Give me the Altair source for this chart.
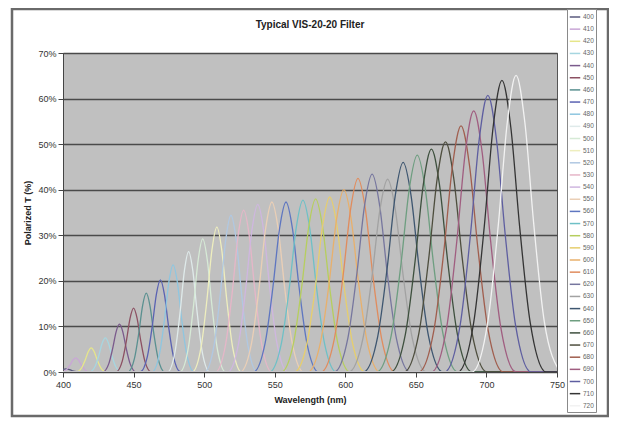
import altair as alt
import pandas as pd

# ---- data ----
filters = ["400", "410", "420", "430", "440", "450", "460", "470", "480", "490",
           "500", "510", "520", "530", "540", "550", "560", "570", "580", "590",
           "600", "610", "620", "630", "640", "650", "660", "670", "680", "690",
           "700", "710", "720"]
peak_nm = [402, 409, 420, 430, 440, 450, 459, 469, 478, 489,
           499, 509, 519, 528, 538, 548, 558, 570, 579, 589,
           599, 609, 619, 630, 641, 651, 661, 671, 682, 691,
           701, 711, 721]
peak_pct = [0.7, 3.1, 5.3, 7.5, 10.5, 14.0, 17.3, 20.2, 23.5, 26.4,
            29.2, 31.8, 34.4, 35.5, 36.8, 37.3, 37.3, 37.7, 38.0, 38.4,
            40.0, 42.5, 43.4, 42.3, 46.0, 47.6, 48.9, 50.5, 54.0, 57.3,
            60.7, 64.0, 65.1]
fwhm_nm = [8, 8, 8.5, 9, 9.5, 10, 10.5, 11.5, 12, 12,
           13, 14, 15, 16, 17, 18, 18.5, 19, 19.5, 20,
           20.5, 21, 21.5, 22, 22.5, 23, 23, 23.5, 24, 24,
           24.5, 25, 25]
colors = ["#5a5a7e", "#c9a6d6", "#e6e68a", "#a6d6e0", "#7a5a8c", "#8c5062",
          "#5a9090", "#5a62b2", "#8ec6e0", "#dfeaea", "#d6ead6", "#eeeebe",
          "#b0c8e2", "#e6b6c8", "#cfb6e0", "#eacfb6", "#5e76c0", "#6ec0c6",
          "#b6ce5e", "#e6ce6e", "#e8b06c", "#e08c5e", "#76769e", "#a2a2a2",
          "#3e5670", "#6e9e80", "#3e503e", "#4e4e3e", "#a05e4e", "#a05e80",
          "#5e5ea0", "#343434", "#f2f2f2"]
# typical peak profile (offset in FWHM units, fraction of peak)
profile_offset = [-1.25, -0.8, -0.5, -0.25, 0.0, 0.25, 0.5, 0.8, 1.25]
profile_rel = [0.0, 0.17, 0.5, 0.84, 1.0, 0.84, 0.5, 0.17, 0.0]
x_ticks = [400, 450, 500, 550, 600, 650, 700, 750]
y_ticks = [0, 10, 20, 30, 40, 50, 60, 70]
chart_title = "Typical VIS-20-20 Filter"

rows = []
for f, c, h, w in zip(filters, peak_nm, peak_pct, fwhm_nm):
    if c + profile_offset[0] * w > 400:
        rows.append({"filter": f, "nm": 400, "T": 0.0})
    for o, r in zip(profile_offset, profile_rel):
        rows.append({"filter": f, "nm": c + o * w, "T": h * r})
    if c + profile_offset[-1] * w < 750:
        rows.append({"filter": f, "nm": 750, "T": 0.0})
df = pd.DataFrame(rows)

FONT = "Liberation Sans"

lines = alt.Chart(df).mark_line(interpolate="monotone", strokeWidth=1.3, clip=True).encode(
    x=alt.X("nm:Q",
            scale=alt.Scale(domain=[400, 750], nice=False, zero=False),
            axis=alt.Axis(values=x_ticks, title="Wavelength (nm)", grid=False,
                          tickSize=5, labelPadding=3, titlePadding=6,
                          labelFlush=False)),
    y=alt.Y("T:Q",
            scale=alt.Scale(domain=[0, 70], nice=False),
            axis=alt.Axis(values=y_ticks, labelExpr="datum.value + '%'",
                          title="Polarized T (%)", grid=True, tickSize=5,
                          labelPadding=2, titlePadding=5, labelFlush=False,
                          gridColor="#4a4a4a", gridWidth=1.3)),
    color=alt.Color("filter:N",
                    scale=alt.Scale(domain=filters, range=colors),
                    legend=alt.Legend(title=None, orient="none", legendX=504, legendY=-44,
                                      padding=2, strokeColor="#8a8a8a", fillColor="white",
                                      labelFontSize=6.5, labelColor="#666", labelFont=FONT,
                                      symbolType="stroke", symbolSize=110,
                                      symbolStrokeWidth=1.5, rowPadding=2.15,
                                      labelOffset=2, symbolLimit=40)),
)

title_df = pd.DataFrame({"t": [chart_title]})
title = alt.Chart(title_df).mark_text(
    font=FONT, fontSize=10, fontWeight="bold", color="#222",
    align="center", baseline="middle", clip=False
).encode(text="t:N", x=alt.value(247), y=alt.value(-28))

frame = alt.Chart(alt.Data(values=[{"a": 1}])).mark_rect(
    fill="white", fillOpacity=0, stroke="#6a6a6a", strokeWidth=2.5, clip=False
).encode(
    x=alt.value(-51), x2=alt.value(545), y=alt.value(-44), y2=alt.value(363)
)

chart = alt.layer(lines, title, frame).properties(
    width=494, height=319,
    autosize=alt.AutoSizeParams(type="none"),
    padding={"left": 55, "top": 45, "right": 52, "bottom": 46},
    background="white",
).configure_view(
    fill="#c0c0c0", stroke="#555", strokeWidth=1
).configure_axis(
    labelFont=FONT, labelFontSize=9, labelColor="#333",
    titleFont=FONT, titleFontSize=9, titleFontWeight="bold", titleColor="#222",
    domainColor="#444", tickColor="#444"
)

chart.save("out.html", embed_options={"renderer": "svg", "actions": False})
